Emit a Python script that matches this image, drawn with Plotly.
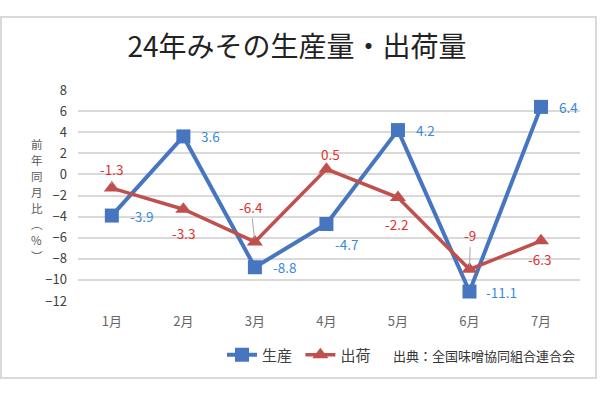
import plotly.graph_objects as go

months = ["1月", "2月", "3月", "4月", "5月", "6月", "7月"]
production = [-3.9, 3.6, -8.8, -4.7, 4.2, -11.1, 6.4]
shipment = [-1.3, -3.3, -6.4, 0.5, -2.2, -9, -6.3]
y_ticks = list(range(-12, 9, 2))
y_title = "前年同月比︵%︶"

FONT = "Noto Sans CJK JP, Noto Sans, sans-serif"
BLUE = "#4676c0"
RED = "#c0504d"
BLUE_TXT = "#3a8adb"
RED_TXT = "#e0302f"

fig = go.Figure()
fig.add_trace(go.Scatter(
    x=months, y=production, name="生産\u00a0", mode="lines+markers",
    line=dict(color=BLUE, width=4),
    marker=dict(symbol="square", size=14, color=BLUE),
))
fig.add_trace(go.Scatter(
    x=months, y=shipment, name="出荷", mode="lines+markers",
    line=dict(color=RED, width=3.5),
    marker=dict(symbol="triangle-up", size=14, color=RED),
))

# label placement styles (per point)
blue_place = [(16, 0, "left"), (16, 0, "left"), (16, 0, "left"), (7, -20, "left"),
              (16, 0, "left"), (15, 0, "left"), (16, 0, "left")]
for m, v, (dx, dy, anc) in zip(months, production, blue_place):
    fig.add_annotation(x=m, y=v, text=f"{v:g}", showarrow=False, xanchor=anc,
                       xshift=dx, yshift=dy,
                       font=dict(family=FONT, size=13.5, color=BLUE_TXT))

red_place = [(0, -19, True), (0, 24, False), (-4, -35, True), (4, -15, False),
             (-1, 26, False), (1, -34, True), (-2, 18, False)]
for m, v, (dx, dy, leader) in zip(months, shipment, red_place):
    if leader:
        fig.add_annotation(x=m, y=v, text=f"{v:g}", showarrow=True, arrowhead=0,
                           arrowwidth=1, arrowcolor="#a6a6a6", ax=dx, ay=dy,
                           standoff=4,
                           font=dict(family=FONT, size=13.5, color=RED_TXT))
    else:
        fig.add_annotation(x=m, y=v, text=f"{v:g}", showarrow=False,
                           xshift=dx, yshift=-dy,
                           font=dict(family=FONT, size=13.5, color=RED_TXT))

L, R, T, B = 78, 580, 90, 301
def px(xp):
    return (xp - L) / (R - L)
def py(yp):
    return (B - yp) / (B - T)

# y axis title (stacked vertical text, one glyph per line)
for i, ch in enumerate(y_title):
    fig.add_annotation(xref="paper", yref="paper", x=px(29), y=py(144 + i * 16),
                       text=ch, showarrow=False, yanchor="middle",
                       font=dict(family=FONT, size=11.5, color="#595959"))

# source note
fig.add_annotation(xref="paper", yref="paper", x=px(577), y=py(355),
                   xanchor="right", yanchor="middle",
                   text="出典：全国味噌協同組合連合会", showarrow=False,
                   font=dict(family=FONT, size=13, color="#333333"))

# outer border
fig.add_shape(type="rect", xref="paper", yref="paper",
              x0=px(1), x1=px(596), y0=py(378), y1=py(17),
              line=dict(color="#d9d9d9", width=2), layer="below")

fig.update_layout(
    width=600, height=400,
    margin=dict(l=L, r=600 - R, t=T, b=400 - B),
    paper_bgcolor="white", plot_bgcolor="white",
    title=dict(text="24年みその生産量・出荷量", x=0.495, xanchor="center",
               y=1 - 47 / 400, yanchor="middle",
               font=dict(family=FONT, size=28, color="#222222")),
    showlegend=True,
    legend=dict(orientation="h", x=px(222), xanchor="left", y=py(355),
                yanchor="middle", font=dict(family=FONT, size=15, color="#404040"),
                itemwidth=30, tracegroupgap=0, bgcolor="rgba(0,0,0,0)"),
    xaxis=dict(showgrid=False, showline=False, ticks="", zeroline=False,
               tickfont=dict(family=FONT, size=13, color="#666666"),
               ticklabelstandoff=11),
    yaxis=dict(range=[-12, 8], tickvals=y_ticks, showgrid=True,
               gridcolor="#d9d9d9", gridwidth=1.5, zeroline=False, showline=False,
               tickfont=dict(family=FONT, size=13, color="#404040"),
               ticklabelstandoff=10),
)

fig.write_html("out.html", config={"displayModeBar": False},
               post_script="document.body.style.margin='0';document.body.style.padding='0';")
